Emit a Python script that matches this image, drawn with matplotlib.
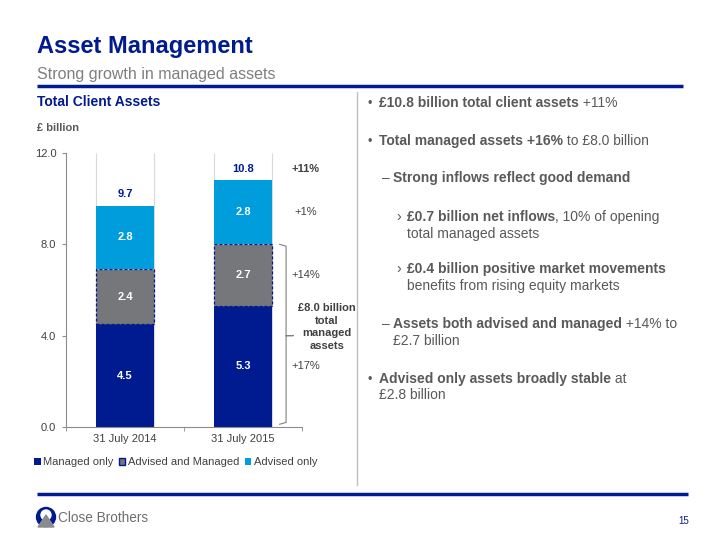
import numpy as np
import matplotlib.pyplot as plt
from matplotlib.patches import Patch, Circle, Polygon
from matplotlib.ticker import StrMethodFormatter

plt.rcParams['font.family'] = ['Liberation Sans', 'DejaVu Sans']

# data
categories = ['31 July 2014', '31 July 2015']
managed_only = np.array([4.5, 5.3])
advised_managed = np.array([2.4, 2.7])
advised_only = np.array([2.8, 2.8])
series_names = ['Managed only', 'Advised and Managed', 'Advised only']
growth = ['+17%', '+14%', '+1%']
total_growth = '+11%'

navy = '#001A8F'
light_blue = '#009DDC'
grey = '#76777A'
text_grey = '#595959'
dark = '#404040'

fig = plt.figure(figsize=(7.2, 5.4), dpi=100)

# background axes in pixel coordinates for the slide furniture
bg = fig.add_axes([0, 0, 1, 1])
bg.set_xlim(0, 720)
bg.set_ylim(540, 0)
bg.axis('off')

bg.text(37, 46, 'Asset Management', fontsize=17, fontweight='bold', color=navy, va='center')
bg.text(37, 74, 'Strong growth in managed assets', fontsize=11.5, color='#7f7f7f', va='center')
bg.plot([37, 683], [86, 86], color=navy, lw=2.5, solid_capstyle='butt')
bg.text(37, 102, 'Total Client Assets', fontsize=10, fontweight='bold', color=navy, va='center')
bg.text(37, 128, '£ billion', fontsize=8, fontweight='bold', color=text_grey, va='center')
bg.plot([357, 357], [92, 485], color='#bfbfbf', lw=1)
bg.plot([37, 688], [494, 494], color=navy, lw=2.5, solid_capstyle='butt')

# logo
bg.add_patch(Circle((46, 517), 9.5, color=navy))
bg.add_patch(Circle((46, 515), 5, color='white'))
bg.add_patch(Polygon([(38, 527), (46, 515), (54, 527)], closed=True, color='#8a8b8d'))
bg.text(58, 518, 'Close Brothers', fontsize=9.8, color='#6d6e71', va='center')
bg.text(684, 521, '15', fontsize=7, color=navy, va='center', ha='center')


def rich_line(x, y, parts, size=10):
    prev = None
    for txt, bold in parts:
        weight = 'bold' if bold else 'normal'
        if prev is None:
            prev = bg.text(x, y, txt, fontsize=size, fontweight=weight, color=text_grey, va='baseline')
        else:
            prev = bg.annotate(txt, xy=(1, y), xycoords=(prev, 'data'), fontsize=size,
                               fontweight=weight, color=text_grey, va='baseline', ha='left')


# right-hand commentary
bg.text(368, 107, '•', fontsize=9, color=text_grey, va='baseline')
rich_line(379, 107, [('£10.8 billion total client assets', True), (' +11%', False)])
bg.text(368, 145, '•', fontsize=9, color=text_grey, va='baseline')
rich_line(379, 145, [('Total managed assets +16%', True), (' to £8.0 billion', False)])
bg.text(382, 182, '–', fontsize=10, color=text_grey, va='baseline')
rich_line(393, 182, [('Strong inflows reflect good demand', True)])
bg.text(396, 221, '›', fontsize=10, color=text_grey, va='baseline')
rich_line(407, 221, [('£0.7 billion net inflows', True), (', 10% of opening', False)])
rich_line(407, 238, [('total managed assets', False)])
bg.text(396, 273, '›', fontsize=10, color=text_grey, va='baseline')
rich_line(407, 273, [('£0.4 billion positive market movements', True)])
rich_line(407, 290, [('benefits from rising equity markets', False)])
bg.text(382, 328, '–', fontsize=10, color=text_grey, va='baseline')
rich_line(393, 328, [('Assets both advised and managed', True), (' +14% to', False)])
rich_line(393, 345, [('£2.7 billion', False)])
bg.text(368, 383, '•', fontsize=9, color=text_grey, va='baseline')
rich_line(379, 383, [('Advised only assets broadly stable', True), (' at', False)])
rich_line(379, 399, [('£2.8 billion', False)])

# chart
ax = fig.add_axes([66 / 720, 1 - 427 / 540, 236 / 720, 274 / 540])
ax.patch.set_alpha(0)
x = np.arange(len(categories))
w = 0.49
top = 12.0

ax.vlines(np.concatenate([x - w / 2, x + w / 2]), 0, top, color='#d9d9d9', lw=0.8, zorder=0)
ax.bar(x, managed_only, width=w, color=navy, zorder=2)
ax.bar(x, advised_managed, width=w, bottom=managed_only, color=grey, edgecolor=navy,
       linestyle=(0, (2.5, 1.5)), linewidth=0.9, zorder=2)
ax.bar(x, advised_only, width=w, bottom=managed_only + advised_managed, color=light_blue, zorder=2)

totals = managed_only + advised_managed + advised_only
bottoms = [np.zeros(2), managed_only, managed_only + advised_managed]
for vals, bot in zip([managed_only, advised_managed, advised_only], bottoms):
    for xi, v, b in zip(x, vals, bot):
        ax.text(xi, b + v / 2, f'{v:.1f}', ha='center', va='center', color='white',
                fontsize=8, fontweight='bold', zorder=3)
for xi, t in zip(x, totals):
    ax.text(xi, t + 0.5, f'{t:.1f}', ha='center', va='center', color=navy,
            fontsize=8, fontweight='bold')

# growth labels against the 2015 bar
gx = 1.53
ax.text(gx, totals[1] + 0.5, total_growth, ha='center', va='center', fontsize=8,
        fontweight='bold', color=dark, clip_on=False)
for g, vals, bot in zip(growth, [managed_only, advised_managed, advised_only], bottoms):
    ax.text(gx, bot[1] + vals[1] / 2, g, ha='center', va='center', fontsize=8,
            color=dark, clip_on=False)

# bracket for total managed assets
total_managed = managed_only[1] + advised_managed[1]
bx0, bx1, bx2 = 1.31, 1.365, 1.425
mid = total_managed / 2
ax.plot([bx0, bx1, bx1, bx2, bx1, bx1, bx0],
        [total_managed, total_managed - 0.08, mid, mid, mid, 0.2, 0.12],
        color='#808080', lw=0.8, clip_on=False)
ax.text(1.71, mid + 0.38, f'£{total_managed:.1f} billion\ntotal\nmanaged\nassets',
        ha='center', va='center', fontsize=8, fontweight='bold', color=dark,
        linespacing=1.3, clip_on=False)

ax.set_xlim(-0.5, 1.5)
ax.set_ylim(0, top)
ax.set_yticks([0, 4, 8, 12])
ax.yaxis.set_major_formatter(StrMethodFormatter('{x:.1f}'))
ax.set_xticks(x, categories)
ax.set_xticks([-0.5, 0.5, 1.5], minor=True)
ax.tick_params(axis='x', which='major', length=0, labelsize=8, labelcolor=dark, pad=5)
ax.tick_params(axis='x', which='minor', length=3, color='#8c8c8c')
ax.tick_params(axis='y', length=3, color='#8c8c8c', labelsize=8, labelcolor=dark, pad=4)
for s in ['top', 'right']:
    ax.spines[s].set_visible(False)
for s in ['left', 'bottom']:
    ax.spines[s].set_color('#8c8c8c')
    ax.spines[s].set_linewidth(0.8)

handles = [Patch(facecolor=navy),
           Patch(facecolor=grey, edgecolor=navy, linewidth=1),
           Patch(facecolor=light_blue)]
fig.legend(handles, series_names, loc='center left', bbox_to_anchor=(34 / 720, 1 - 462 / 540),
           ncol=3, frameon=False, fontsize=8, handlelength=0.6, handleheight=0.6,
           handletextpad=0.2, columnspacing=0.5, labelcolor=dark, borderaxespad=0,
           borderpad=0)

fig.savefig('out.png', dpi=100)
